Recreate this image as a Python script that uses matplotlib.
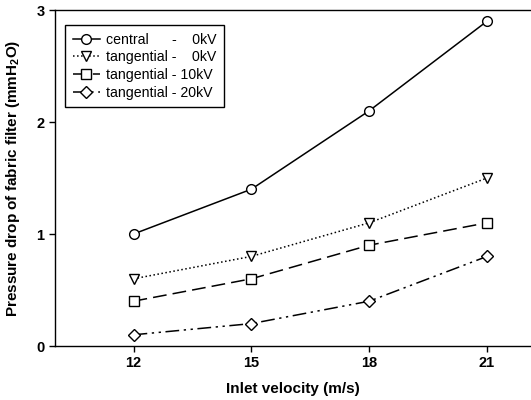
import matplotlib
matplotlib.use('Agg')
import matplotlib.pyplot as plt

plt.rcParams['font.family'] = ['Liberation Sans', 'DejaVu Sans']
plt.rcParams['mathtext.fontset'] = 'custom'
plt.rcParams['mathtext.rm'] = 'Liberation Sans'
plt.rcParams['mathtext.bf'] = 'Liberation Sans:bold'

# data
velocity = [12, 15, 18, 21]
central_0kv = [1.0, 1.4, 2.1, 2.9]
tang_0kv = [0.6, 0.8, 1.1, 1.5]
tang_10kv = [0.4, 0.6, 0.9, 1.1]
tang_20kv = [0.1, 0.2, 0.4, 0.8]

fig = plt.figure(figsize=(5.31, 4.0), dpi=100)
ax = fig.add_axes([55 / 531, 54 / 400, 1 - 55 / 531, 336 / 400])

mk = dict(markerfacecolor='white', markeredgecolor='black', markersize=7, markeredgewidth=1.0, color='black', lw=1.1)
ax.plot(velocity, central_0kv, '-', marker='o', label='central      -    0kV', **mk)
ax.plot(velocity, tang_0kv, ':', marker='v', label='tangential -    0kV', **mk)
ax.plot(velocity, tang_10kv, marker='s', dashes=(9, 4), label='tangential - 10kV', **mk)
ax.plot(velocity, tang_20kv, marker='D', dashes=(9, 3, 1.5, 3, 1.5, 3), label='tangential - 20kV',
        **{**mk, 'markersize': 6})

ax.set_xlim(10, 22.12)
ax.set_ylim(0, 3)
ax.set_xticks(velocity)
ax.set_yticks([0, 1, 2, 3])
ax.spines['right'].set_visible(False)
for s in ['left', 'top', 'bottom']:
    ax.spines[s].set_linewidth(1.0)
ax.tick_params(direction='out', length=4, width=1, labelsize=10.5)
for t in ax.get_xticklabels() + ax.get_yticklabels():
    t.set_fontweight('bold')

ax.set_xlabel('Inlet velocity (m/s)', fontsize=11, fontweight='bold', labelpad=8)
ax.set_ylabel(r'Pressure drop of fabric filter (mmH$_{\mathbf{2}}$O)', fontsize=11, fontweight='bold', labelpad=10)

leg = ax.legend(loc='upper left', bbox_to_anchor=(0.021, 0.955), fontsize=10.2, handlelength=1.9,
                handletextpad=0.45, labelspacing=0.25, borderpad=0.55, fancybox=False, framealpha=1,
                borderaxespad=0)
leg.get_frame().set_edgecolor('black')
leg.get_frame().set_linewidth(1.0)

fig.savefig('out.png', dpi=100)
